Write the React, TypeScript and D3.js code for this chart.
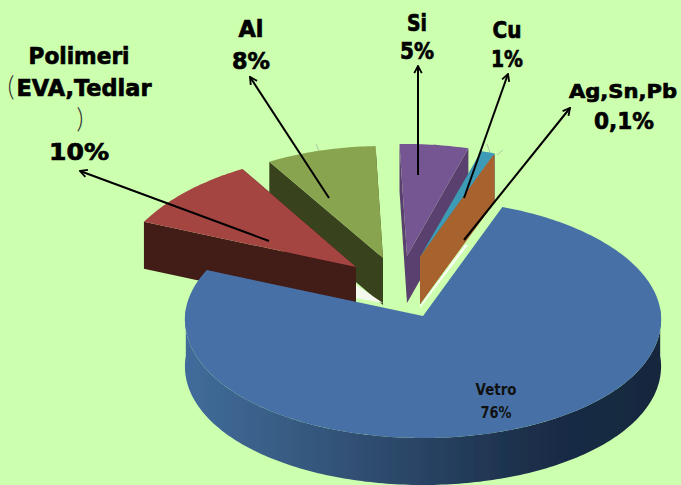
import React from "react";
import * as d3 from "d3";

const materials = ["Vetro", "Polimeri", "Al", "Si", "Cu", "Ag,Sn,Pb"];
const shares = [76, 10, 8, 5, 1, 0.1];
const topColors = ["#4671a6", "#a54442", "#89a44f", "#755693", "#3e9bb6", "#a8622e"];
const wallColors = ["#2c4a70", "#421a17", "#37421c", "#5a3f6e", "#2b6f85", "#a8622e"];

const W = 681;
const H = 485;
const DEPTH = 47;
const BG = "#ccffae";
const FONT = "'DejaVu Sans', sans-serif";

// where each exploded wedge sits on the page
const placement = [
  { ax: 423, ay: 316, rx: 238, ryB: 116, ryF: 122, p: 0.027 },
  { ax: 356, ay: 267, rx: 238, ryB: 114, ryF: 114, p: 0.075 },
  { ax: 383, ay: 258, rx: 238, ryB: 112, ryF: 112, p: 0.075 },
  { ax: 407, ay: 256, rx: 222, ryB: 112, ryF: 112, p: 0 },
  { ax: 420, ay: 257, rx: 222, ryB: 110, ryF: 110, p: 0 },
  { ax: 420, ay: 257, rx: 218, ryB: 108, ryF: 108, p: 0 },
];

const arrows = [
  [269, 241, 80, 171],
  [329, 198, 250, 77],
  [418, 175, 418, 66],
  [464, 198, 508, 74],
  [464, 240, 570, 108],
];

const stubs = [
  [316, 144, 319, 151],
  [435, 144, 435, 147],
  [487, 144, 490, 153],
  [497, 155, 503, 150],
];

type Lbl = { t: string; x: number; y: number; w: number; s?: number };
const labels: Lbl[] = [
  { t: "Polimeri", x: 79, y: 64, w: 101 },
  { t: "EVA,Tedlar", x: 84, y: 96, w: 135 },
  { t: "10%", x: 79, y: 160, w: 60 },
  { t: "Al", x: 251, y: 37, w: 25 },
  { t: "8%", x: 251, y: 69, w: 38 },
  { t: "Si", x: 417, y: 31, w: 20 },
  { t: "5%", x: 417, y: 59, w: 34 },
  { t: "Cu", x: 507, y: 38, w: 29 },
  { t: "1%", x: 507, y: 67, w: 32 },
  { t: "Ag,Sn,Pb", x: 623, y: 98, w: 108, s: 20 },
  { t: "0,1%", x: 624, y: 129, w: 60 },
];

const rad = (d: number) => (d * Math.PI) / 180;
const START = rad(20);

export default function App() {
  const pie = d3
    .pie<number>()
    .sort(null)
    .value((d) => d)
    .startAngle(START)
    .endAngle(START + 2 * Math.PI);
  const arcs = pie(shares);
  const line = d3.line<[number, number]>();

  const project = (i: number, th: number, z = 0): [number, number] => {
    const q = placement[i];
    const c = Math.cos(th);
    const s = Math.sin(th);
    return [q.ax + q.rx * s * (1 - q.p * c), q.ay - (c > 0 ? q.ryB : q.ryF) * c + z];
  };
  const rim = (i: number, a: number, b: number, z = 0) => {
    const n = Math.max(2, Math.ceil(Math.abs(b - a) / rad(1)));
    return d3.range(n + 1).map((k) => project(i, a + ((b - a) * k) / n, z));
  };
  const apex = (i: number, z = 0): [number, number] => [placement[i].ax, placement[i].ay + z];

  const topPath = (i: number) => line([apex(i), ...rim(i, arcs[i].startAngle, arcs[i].endAngle)]) + "Z";
  const wallPath = (i: number, th: number) =>
    line([apex(i), project(i, th), project(i, th, DEPTH), apex(i, DEPTH)]) + "Z";
  const frontWall = () => {
    const a = Math.PI / 2 - 0.06;
    const b = (3 * Math.PI) / 2 + 0.06;
    return line([...rim(0, a, b), ...rim(0, b, a, DEPTH)]) + "Z";
  };

  const order = [2, 1, 3, 4, 5];

  return (
    <svg width={W} height={H} viewBox={`0 0 ${W} ${H}`} style={{ position: "absolute", left: 0, top: 0 }}>
      <defs>
        <linearGradient id="rimGrad" gradientUnits="userSpaceOnUse" x1={184} x2={661} y1={0} y2={0}>
          <stop offset="0" stopColor="#416c9b" />
          <stop offset="0.25" stopColor="#36597f" />
          <stop offset="0.5" stopColor="#294364" />
          <stop offset="0.75" stopColor="#1a2d47" />
          <stop offset="1" stopColor="#16273d" />
        </linearGradient>
        <marker id="head" viewBox="0 0 12 12" refX="10.5" refY="6" markerWidth="10" markerHeight="10" markerUnits="userSpaceOnUse" orient="auto">
          <path d="M2,1.5 L10.5,6 L2,10.5" fill="none" stroke="#000" strokeWidth="2.2" />
        </marker>
        <filter id="soft" x="-5%" y="-5%" width="110%" height="110%">
          <feGaussianBlur stdDeviation="0.45" />
        </filter>
      </defs>
      <rect width={W} height={H} fill={BG} />
      {stubs.map((a, i) => (
        <line key={i} x1={a[0]} y1={a[1]} x2={a[2]} y2={a[3]} stroke="#a9b8a0" strokeWidth={0.8} />
      ))}
      <g filter="url(#soft)">
        {order.map((i) => (
          <g key={materials[i]}>
            {i === 1 && (
              <path d={line([apex(1, 18), apex(2, 45), apex(1, 31)]) + "Z"} fill="#f4f8ee" />
            )}
            {i === 5 && (
              <path d={line([apex(5, 49), [465, 245], [468, 245], apex(5, 51)]) + "Z"} fill="#fff" />
            )}
            <path d={wallPath(i, arcs[i].endAngle)} fill={wallColors[i]} />
            <path d={wallPath(i, arcs[i].startAngle)} fill={wallColors[i]} />
            <path d={topPath(i)} fill={topColors[i]} />
          </g>
        ))}
        <path d={frontWall()} fill="url(#rimGrad)" />
        <path d={topPath(0)} fill={topColors[0]} />
      </g>
      {arrows.map((a, i) => (
        <line key={i} x1={a[0]} y1={a[1]} x2={a[2]} y2={a[3]} stroke="#000" strokeWidth={2} markerEnd="url(#head)" />
      ))}
      <g fontFamily={FONT} fontWeight={700} fontSize={23} fill="#000" stroke="#000" strokeWidth={0.7} textAnchor="middle">
        {labels.map((l) => (
          <text key={l.t} x={l.x} y={l.y} fontSize={l.s ?? 23} textLength={l.w} lengthAdjust="spacingAndGlyphs">
            {l.t}
          </text>
        ))}
      </g>
      <g fontFamily="Lato, sans-serif" fontWeight={300} fontSize={27} fill="#333" textAnchor="middle">
        <text x={11} y={96}>(</text>
        <text x={80} y={128}>)</text>
      </g>
      <g fontFamily={FONT} fontWeight={700} fontSize={15} fill="#111" textAnchor="middle">
        <text x={496} y={395} textLength={41} lengthAdjust="spacingAndGlyphs">{materials[0]}</text>
        <text x={496} y={418} textLength={31} lengthAdjust="spacingAndGlyphs">{`${shares[0]}%`}</text>
      </g>
    </svg>
  );
}
